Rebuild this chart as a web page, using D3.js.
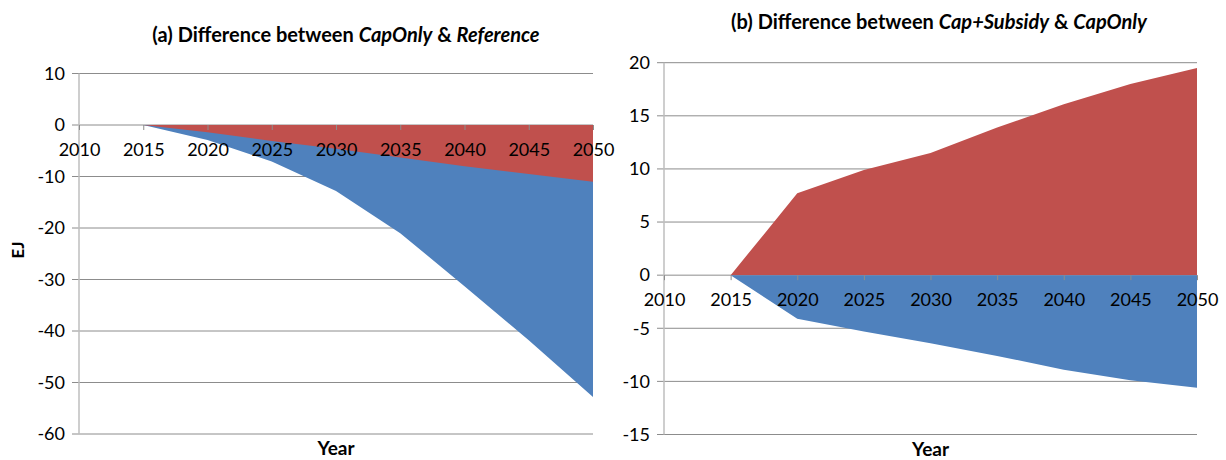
<!DOCTYPE html>
<html><head><meta charset="utf-8">
<script src="https://cdn.jsdelivr.net/npm/d3@7"></script>
<style>
body{margin:0;background:#fff}
svg text{font-family:Lato, "Open Sans", sans-serif; fill:#000}
</style>
</head><body>
<svg id="c" width="1226" height="460"></svg>
<script>
// ---- data ----
const categories = [2010, 2015, 2020, 2025, 2030, 2035, 2040, 2045, 2050];
const dataYears  = [2015, 2020, 2025, 2030, 2035, 2040, 2045, 2050];
// panel (a): CapOnly vs Reference
const aBlue = [0, -2.9, -7.1, -12.8, -21.0, -31.3, -41.8, -52.8];
const aRed  = [0, -1.4, -3.1, -4.6, -6.3, -8.0, -9.5, -11.0];
const aTicks = [10, 0, -10, -20, -30, -40, -50, -60];
// panel (b): Cap+Subsidy vs CapOnly
const bRed  = [0, 7.7, 9.9, 11.5, 13.9, 16.1, 18.0, 19.5];
const bBlue = [0, -4.1, -5.3, -6.4, -7.6, -8.9, -9.9, -10.6];
const bTicks = [20, 15, 10, 5, 0, -5, -10, -15];

const RED = "#C0504D", BLUE = "#4F81BD";
const GRID = "#8C8C8C", AXIS = "#BEBEBE";

const svg = d3.select("#c");

function panel(cfg) {
  const g = svg.append("g");
  const x = d3.scalePoint().domain(categories).range([cfg.x0, cfg.x1]).padding(0);
  const y = d3.scaleLinear().domain([d3.min(cfg.ticks), d3.max(cfg.ticks)]).range([cfg.yb, cfg.yt]);

  // gridlines (with outside tick stubs)
  g.append("g").selectAll("line").data(cfg.ticks).join("line")
    .attr("x1", cfg.x0 - 7).attr("x2", cfg.x1)
    .attr("y1", d => y(d)).attr("y2", d => y(d))
    .attr("stroke", GRID).attr("stroke-width", 1);

  // areas
  const area = d3.area().x((d, i) => x(dataYears[i])).y0(y(0)).y1(d => d);
  cfg.series.forEach(s => {
    g.append("path")
      .datum(s.values.map(v => y(v)))
      .attr("d", area)
      .attr("fill", s.color);
  });

  // y axis
  const ya = d3.axisLeft(y).tickValues(cfg.ticks).tickSize(0).tickPadding(14).tickFormat(d => String(d));
  const yg = g.append("g").attr("transform", `translate(${cfg.x0},0)`).call(ya);
  yg.select(".domain").remove();
  yg.selectAll("text").style("font-size", "18px").attr("fill", "#000");
  g.append("line").attr("x1", cfg.x0).attr("x2", cfg.x0)
    .attr("y1", y(d3.max(cfg.ticks))).attr("y2", y(d3.min(cfg.ticks)))
    .attr("stroke", AXIS).attr("stroke-width", 1.5);

  // x axis at 0
  const xa = d3.axisBottom(x).tickSize(5).tickPadding(0).tickFormat(d => String(d));
  const xg = g.append("g").attr("transform", `translate(0,${y(0)})`).call(xa);
  xg.select(".domain").remove();
  xg.selectAll(".tick line").attr("stroke", GRID);
  xg.selectAll("text").style("font-size", "18px").attr("fill", "#000")
    .attr("y", 31).attr("dy", null);

  // title
  const t = g.append("text").attr("x", cfg.titleX).attr("y", cfg.titleY)
    .attr("text-anchor", "middle").style("font-size", "20px").style("font-weight", "bold");
  cfg.title.forEach(p => {
    t.append("tspan").text(p.t).style("font-style", p.i ? "italic" : "normal");
  });

  // x title
  g.append("text").attr("x", (cfg.x0 + cfg.x1) / 2).attr("y", cfg.xTitleY)
    .attr("text-anchor", "middle").style("font-size", "19px").style("font-weight", "bold").text("Year");

  if (cfg.yTitle) {
    g.append("text").attr("transform", `translate(24,${cfg.yTitleY}) rotate(-90)`)
      .attr("text-anchor", "middle").style("font-size", "17px").style("font-weight", "bold").text(cfg.yTitle);
  }
}

panel({
  x0: 79, x1: 593, yt: 73.5, yb: 434,
  ticks: aTicks,
  series: [{values: aBlue, color: BLUE}, {values: aRed, color: RED}],
  title: [{t: "(a) Difference between "}, {t: "CapOnly", i: true}, {t: " & "}, {t: "Reference", i: true}],
  titleX: 346, titleY: 42, xTitleY: 455,
  yTitle: "EJ", yTitleY: 250
});

panel({
  x0: 664, x1: 1197, yt: 62.7, yb: 434.5,
  ticks: bTicks,
  series: [{values: bRed, color: RED}, {values: bBlue, color: BLUE}],
  title: [{t: "(b) Difference between "}, {t: "Cap+Subsidy", i: true}, {t: " & "}, {t: "CapOnly", i: true}],
  titleX: 939, titleY: 29, xTitleY: 456
});
</script>
</body></html>
